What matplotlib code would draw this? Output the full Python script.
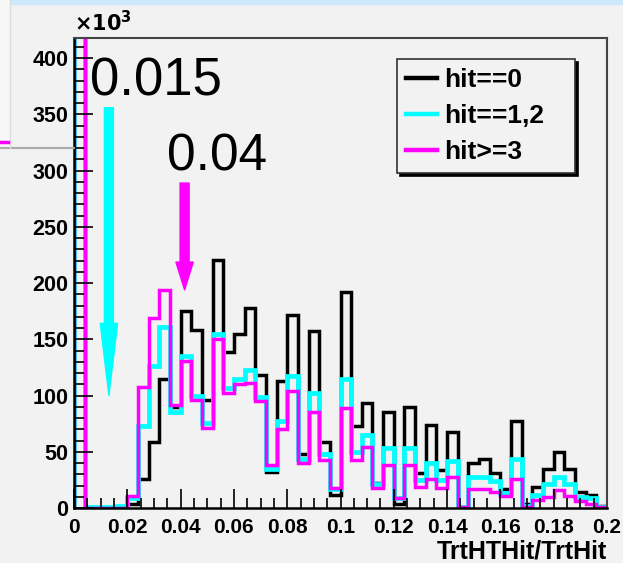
import numpy as np
import matplotlib
matplotlib.use("Agg")
import matplotlib.pyplot as plt

plt.rcParams['font.family'] = ['Liberation Sans', 'DejaVu Sans']

# 50 bins of width 0.004 between 0 and 0.2, counts in units of 10^3
bin_edges = np.linspace(0.0, 0.2, 51)

hit0 = [1500, 0, 0, 0, 0, 4, 26, 59, 115, 90,
        175, 158, 96, 221, 139, 155, 178, 118, 32, 113,
        172, 48, 157, 59, 12, 192, 73, 93, 22, 85,
        4, 90, 31, 74, 34, 68, 1, 40, 44, 31,
        17, 77, 4, 19, 35, 50, 35, 14, 12, 2]
hit12 = [1500, 1, 1, 1, 2, 9, 73, 126, 161, 85,
         135, 100, 76, 155, 107, 115, 123, 99, 35, 77,
         117, 44, 102, 48, 17, 115, 50, 65, 21, 53,
         9, 53, 25, 40, 25, 42, 1, 28, 28, 24,
         13, 44, 2, 12, 21, 28, 21, 10, 9, 1]
hit3 = [1500, 0, 0, 0, 0, 11, 108, 169, 194, 92,
        131, 96, 71, 150, 102, 110, 111, 95, 38, 70,
        104, 40, 85, 43, 18, 89, 43, 54, 18, 38,
        9, 38, 19, 26, 18, 28, 1, 17, 17, 14,
        11, 26, 1, 7, 10, 16, 11, 6, 4, 1]

labels = ['hit==0', 'hit==1,2', 'hit>=3']
colors = ['black', '#00ffff', '#ff00ff']

# cut positions marked with arrows: (label, x, arrow top, arrow tip)
cuts = [('0.015', 0.0131, 356, 100, '#00ffff', 5.2),
        ('0.04', 0.0415, 289, 194, '#ff00ff', 2.0)]

bg = '#f2f2f2'
fig = plt.figure(figsize=(6.23, 5.63), dpi=100, facecolor=bg)
ax = fig.add_axes([74 / 623, 55 / 563, 533 / 623, 470 / 563])
ax.set_facecolor(bg)

widths = [2.5, 3.4, 2.5]
for vals, col, lw, lab in zip([hit0, hit12, hit3], colors, widths, labels):
    ax.stairs(vals, bin_edges, color=col, lw=lw, label=lab, baseline=0)

ax.set_xlim(0, 0.2)
ax.set_ylim(0, 418)

for lab, x, top, tip, col, hl in cuts:
    ax.annotate('', xy=(x, tip), xytext=(x, top),
                arrowprops=dict(arrowstyle='simple,head_width=1.25,head_length=%.1f,tail_width=0.65' % hl,
                                color=col, mutation_scale=10, shrinkA=0, shrinkB=0))
ax.text(0.006, 367, '0.015', fontsize=38, va='baseline', ha='left')
ax.text(0.0349, 300, '0.04', fontsize=37, va='baseline', ha='left')

# axis styling
ax.set_xticks(np.arange(0, 0.201, 0.02))
ax.set_xticks(np.arange(0, 0.201, 0.005), minor=True)
ax.set_xticklabels(['0', '0.02', '0.04', '0.06', '0.08', '0.1', '0.12', '0.14',
                    '0.16', '0.18', '0.2'], fontsize=15, fontweight='bold')
ax.set_yticks(np.arange(0, 401, 50))
ax.set_yticks(np.arange(0, 418, 10), minor=True)
ax.set_yticklabels([str(v) for v in range(0, 401, 50)], fontsize=15.5, fontweight='bold')
ax.tick_params(which='both', direction='in', top=False, right=False, width=1.2)
ax.tick_params(which='major', length=14)
ax.tick_params(which='minor', length=7)
ax.tick_params(axis='x', pad=7)
ax.tick_params(axis='y', pad=4)
for side in ['left', 'bottom']:
    ax.spines[side].set_linewidth(1.8)
for side in ['top', 'right']:
    ax.spines[side].set_linewidth(1.5)
    ax.spines[side].set_color('#444444')

ax.text(0.0, 1.005, r'$\mathbf{\times10^{3}}$', transform=ax.transAxes, fontsize=15,
        ha='left', va='bottom')
ax.set_xlabel('TrtHTHit/TrtHit', fontsize=18, fontweight='bold', loc='right', labelpad=2)

leg = ax.legend(loc='upper left', bbox_to_anchor=(323 / 533, 0.5, 178 / 533, 1 - 21 / 470 - 0.5),
                mode='expand', prop={'weight': 'bold', 'size': 19}, frameon=True, fancybox=False,
                shadow={'color': 'black', 'alpha': 1}, handlelength=1.15, handletextpad=0.3,
                borderpad=0.35, labelspacing=0.45, borderaxespad=0)
leg.get_frame().set_edgecolor('#333333')
leg.get_frame().set_facecolor(bg)
leg.get_frame().set_linewidth(1.2)
for line in leg.get_lines():
    line.set_linewidth(3.2)

# light blue strip along the top edge and the border of the neighbouring pad
fig.patches.append(plt.Rectangle((10 / 623, 1 - 4 / 563), 1, 4 / 563, transform=fig.transFigure,
                                 color='#cfe9fc', zorder=0))
fig.patches.append(plt.Rectangle((0, 1 - 148 / 563), 10 / 623, 148 / 563, transform=fig.transFigure,
                                 color='#f7f7f7', zorder=0))
fig.lines.append(plt.Line2D([0, 74 / 623], [1 - 148 / 563] * 2, transform=fig.transFigure,
                            color='#aaaaaa', lw=1.5))
fig.lines.append(plt.Line2D([10 / 623] * 2, [1 - 148 / 563, 1], transform=fig.transFigure,
                            color='#dddddd', lw=1.0))
fig.lines.append(plt.Line2D([0, 8 / 623], [1 - 142 / 563] * 2, transform=fig.transFigure,
                            color='#ff00ff', lw=2.5))

fig.savefig('out.png', dpi=100, facecolor=bg)
